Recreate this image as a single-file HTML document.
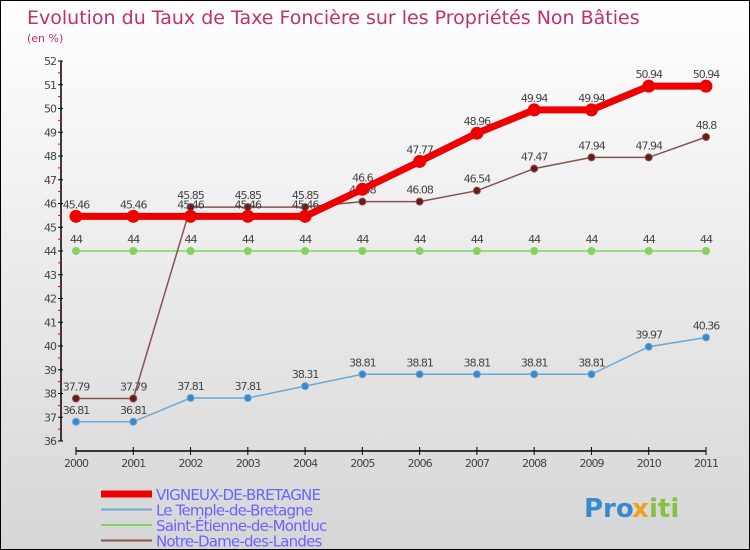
<!DOCTYPE html>
<html><head><meta charset="utf-8"><style>
body{margin:0}
#wrap{width:750px;height:550px;position:relative;box-sizing:border-box;border:1px solid #000;background:linear-gradient(#fff,#d6d6d6);font-family:"DejaVu Sans","Liberation Sans",sans-serif;overflow:hidden}
svg{position:absolute;left:0;top:0}
</style></head><body>
<div id="wrap">
<svg id="c" width="750" height="550"></svg>
</div>
<script>
const years=["2000","2001","2002","2003","2004","2005","2006","2007","2008","2009","2010","2011"];
const vigneux=[45.46,45.46,45.46,45.46,45.46,46.6,47.77,48.96,49.94,49.94,50.94,50.94];
const temple=[36.81,36.81,37.81,37.81,38.31,38.81,38.81,38.81,38.81,38.81,39.97,40.36];
const stetienne=[44,44,44,44,44,44,44,44,44,44,44,44];
const notredame=[37.79,37.79,45.85,45.85,45.85,46.08,46.08,46.54,47.47,47.94,47.94,48.8];
const yTicks=[36,37,38,39,40,41,42,43,44,45,46,47,48,49,50,51,52];
const seriesNames=["VIGNEUX-DE-BRETAGNE","Le Temple-de-Bretagne","Saint-Étienne-de-Montluc","Notre-Dame-des-Landes"];
const NS="http://www.w3.org/2000/svg";
const svg=document.getElementById('c');
function X(i){return 75+i*(630/11);}
function Y(v){return 440-(v-36)*23.75;}
function el(t,a,p){const e=document.createElementNS(NS,t);for(const k in a)e.setAttribute(k,a[k]);(p||svg).appendChild(e);return e;}
function txt(s,a){const e=el('text',a);e.textContent=s;return e;}
let t=txt("Evolution du Taux de Taxe Foncière sur les Propriétés Non Bâties",{x:26,y:23,'font-size':19,fill:'#c0306a'});

t=txt("(en %)",{x:26,y:41,'font-size':11,fill:'#c0306a'});

let ax=el('line',{x1:60,y1:60,x2:60,y2:440,stroke:'#000','stroke-width':1.5});

yTicks.forEach((v,i)=>{
 const l=el('line',{x1:57,x2:62,y1:Y(v),y2:Y(v),stroke:'#000'});
 
 if(i<yTicks.length-1){const m=el('line',{x1:57,x2:60,y1:Y(v+0.5),y2:Y(v+0.5),stroke:'#e00'});
 }
 const tt=txt(String(v),{x:55,y:Y(v)+4,'font-size':11,fill:'#444','text-anchor':'end','letter-spacing':'-1'});
 
});
ax=el('line',{x1:75,y1:450,x2:705,y2:450,stroke:'#000','stroke-width':1.5});

years.forEach((y,i)=>{
 const l=el('line',{x1:X(i),x2:X(i),y1:446,y2:454,stroke:'#000'});
 
 const tt=txt(y,{x:X(i),y:466,'font-size':11,fill:'#444','text-anchor':'middle','letter-spacing':'-1'});
 
});
function series(data,color,w,r,dot,name){
 const g=el('g',{});
 
 el('polyline',{points:data.map((v,i)=>X(i)+','+Y(v)).join(' '),fill:'none',stroke:color,'stroke-width':w},g);
 data.forEach((v,i)=>{
  const c=el('circle',{cx:X(i),cy:Y(v),r:r,fill:dot,stroke:color,'stroke-width':1},g);
  
  const tt=el('text',{x:X(i),y:Y(v)-8,'font-size':11,fill:'#444','text-anchor':'middle','letter-spacing':'-1'},g);
  tt.textContent=String(v);
  
 });
}
series(stetienne,'#88d060',1.5,3.5,'#88d060','saint-etienne-series');
series(temple,'#6aa8d8',1.5,3.5,'#3a88c8','temple-series');
series(notredame,'#8a5050',1.5,3.5,'#6a1a1a','notre-dame-series');
series(vigneux,'#ee0000',7,6,'#ee0000','vigneux-series');
const lc=['#ee0000','#6aa8d8','#88d060','#8a5050'],lw=[7,2,2,2];
seriesNames.forEach((n,i)=>{
 const y=493+i*15.5;
 const g=el('g',{});
 el('line',{x1:100,x2:151,y1:y,y2:y,stroke:lc[i],'stroke-width':lw[i]},g);
 const tt=el('text',{x:155,y:y+6,'font-size':15,fill:'#6666ff','letter-spacing':'-0.8'},g);tt.textContent=n;
});
t=txt("Pro",{x:583,y:516,'font-size':26,'font-weight':'bold',fill:'#3a8ad0'});

t=txt("x",{x:631,y:516,'font-size':26,'font-weight':'bold',fill:'#f0a020'});

t=txt("iti",{x:648,y:516,'font-size':26,'font-weight':'bold',fill:'#88c040'});

</script>
</body></html>
